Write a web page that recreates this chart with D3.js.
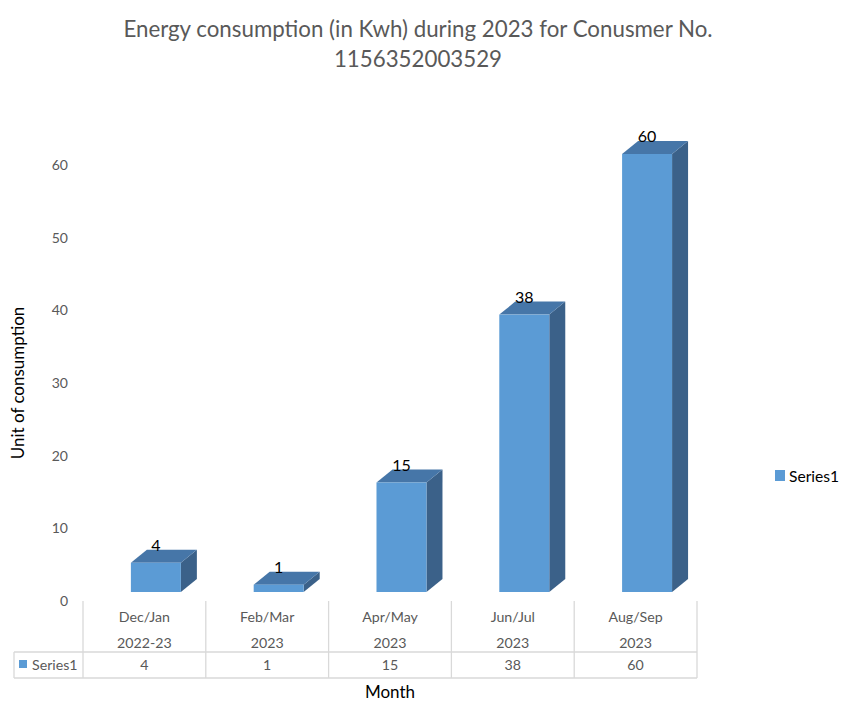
<!DOCTYPE html>
<html><head><meta charset="utf-8">
<script src="https://cdn.jsdelivr.net/npm/d3@7/dist/d3.min.js"></script>
<style>body{margin:0;background:#fff}svg{display:block}text{font-family:Lato,"Open Sans",sans-serif}</style>
</head><body>
<script>
const months = ["Dec/Jan","Feb/Mar","Apr/May","Jun/Jul","Aug/Sep"];
const years = ["2022-23","2023","2023","2023","2023"];
const values = [4,1,15,38,60];
const yTicks = [0,10,20,30,40,50,60];
const seriesName = "Series1";
const titleLines = ["Energy consumption (in Kwh) during 2023 for Conusmer No.","1156352003529"];

const W=842,H=701;
const svg=d3.select("body").append("svg").attr("width",W).attr("height",H);
const grey="#595959", border="#D9D9D9";

svg.selectAll("text.title").data(titleLines).join("text")
  .attr("x",418).attr("y",(d,i)=>37+i*30).attr("text-anchor","middle")
  .attr("font-size",22.3).attr("fill",grey).text(d=>d);

const x=d3.scaleBand().domain(months).range([83,697]).paddingInner(0).paddingOuter(0);
const yAxisScale=d3.scaleLinear().domain([0,60]).range([601,165]);
const yFront=d3.scaleLinear().domain([0,60]).range([592,154]);
const dx=16, dy=-13;

svg.selectAll("text.tick").data(yTicks).join("text")
  .attr("x",68).attr("y",d=>yAxisScale(d)).attr("dy","0.35em").attr("text-anchor","end")
  .attr("font-size",14).attr("fill",grey).text(d=>d);

svg.append("text").attr("transform","translate(24,383) rotate(-90)").attr("text-anchor","middle")
  .attr("font-size",17).attr("fill","#000").text("Unit of consumption");

const bw=x.bandwidth();
const fx=d=>x(d)+bw*0.39, fw=bw*0.407;
const g=svg.append("g");
months.forEach((m,i)=>{
  const v=values[i];
  const x0=fx(m), x1=x0+fw, yt=yFront(v), yb=yFront(0);
  g.append("path").attr("d",`M${x1},${yb}L${x1+dx},${yb+dy}L${x1+dx},${yt+dy}L${x1},${yt}Z`).attr("fill","#3B6189");
  g.append("path").attr("d",`M${x0},${yt}L${x0+dx},${yt+dy}L${x1+dx},${yt+dy}L${x1},${yt}Z`).attr("fill","#4676A8");
  g.append("rect").attr("x",x0).attr("y",yt).attr("width",fw).attr("height",yb-yt).attr("fill","#5B9BD5");
  g.append("text").attr("x",x0+fw/2).attr("y",yt+dy+1).attr("text-anchor","middle")
    .attr("font-size",16).attr("fill","#000").text(v);
});

const tt=601, r1=652, r2=678, tl=14;
const tg=svg.append("g").attr("stroke",border).attr("stroke-width",1.3);
const bounds=months.map(m=>x(m)).concat([x.range()[1]]);
bounds.forEach(b=>tg.append("line").attr("x1",b).attr("x2",b).attr("y1",tt).attr("y2",r2));
tg.append("line").attr("x1",tl).attr("x2",tl).attr("y1",r1).attr("y2",r2);
[r1,r2].forEach(r=>tg.append("line").attr("x1",tl).attr("x2",697).attr("y1",r).attr("y2",r));

months.forEach((m,i)=>{
  const cx=x(m)+bw/2;
  svg.append("text").attr("x",cx).attr("y",622).attr("text-anchor","middle").attr("font-size",14.2).attr("fill",grey).text(m);
  svg.append("text").attr("x",cx).attr("y",648).attr("text-anchor","middle").attr("font-size",14.2).attr("fill",grey).text(years[i]);
  svg.append("text").attr("x",cx).attr("y",670).attr("text-anchor","middle").attr("font-size",14.2).attr("fill",grey).text(values[i]);
});
svg.append("rect").attr("x",19).attr("y",660).attr("width",8).attr("height",8).attr("fill","#5B9BD5");
svg.append("text").attr("x",32).attr("y",670).attr("font-size",14.2).attr("fill",grey).text(seriesName);

svg.append("text").attr("x",390).attr("y",698).attr("text-anchor","middle").attr("font-size",17).attr("fill","#000").text("Month");

svg.append("rect").attr("x",775).attr("y",470).attr("width",10).attr("height",11).attr("fill","#5B9BD5");
svg.append("text").attr("x",789).attr("y",482).attr("font-size",15.6).attr("fill","#000").text(seriesName);
</script>
</body></html>
